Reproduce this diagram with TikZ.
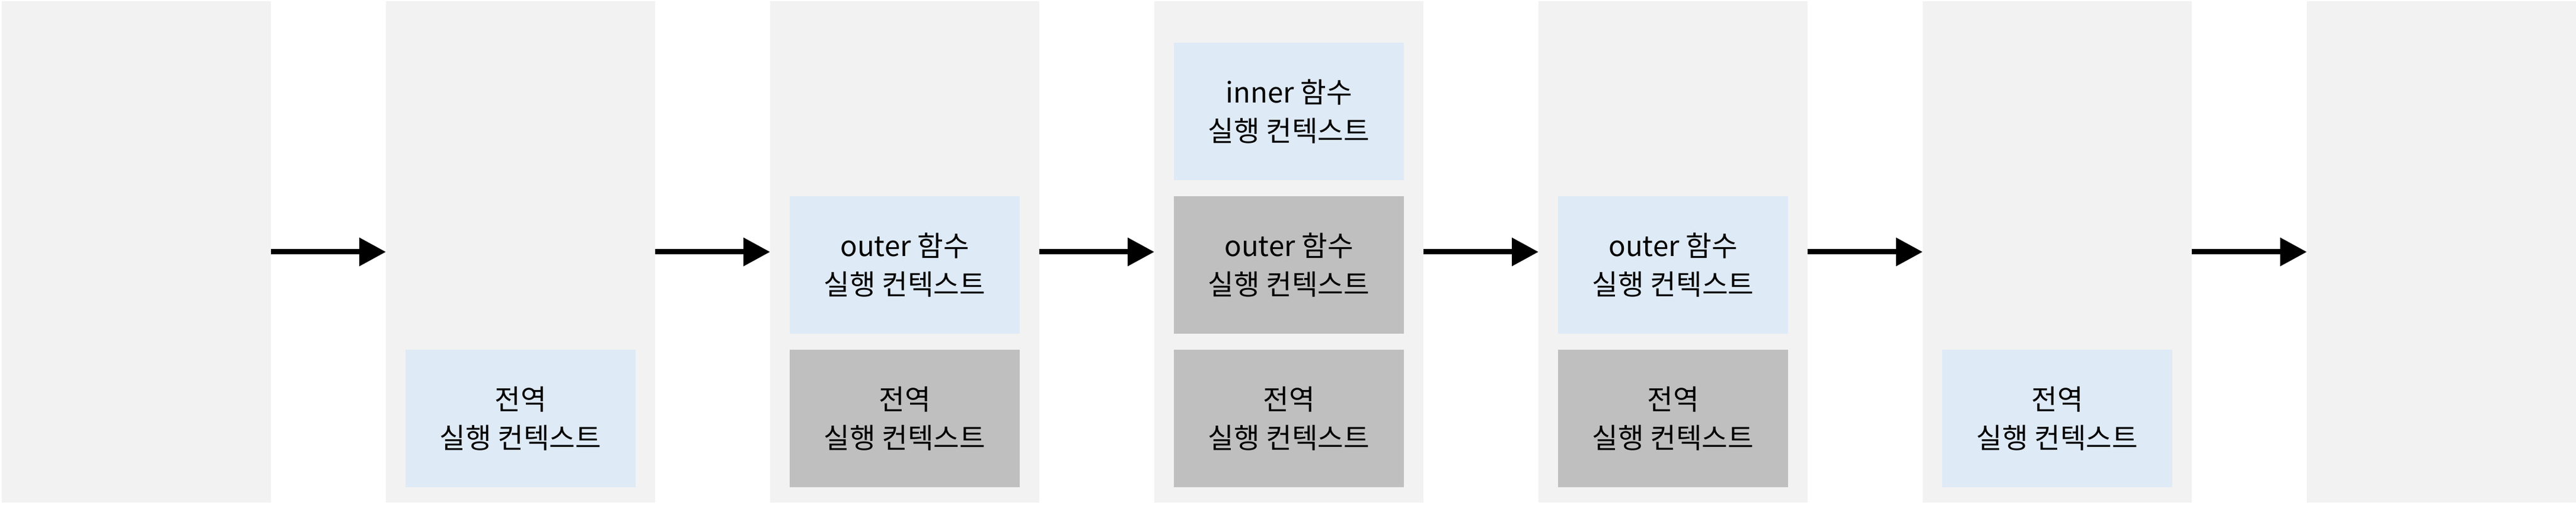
\documentclass[tikz,border=0pt]{standalone}
\usepackage{fontspec}
\setmainfont{Noto Sans CJK KR}
\usetikzlibrary{arrows.meta}

\definecolor{panelgray}{HTML}{F2F2F2}
\definecolor{ctxblue}{HTML}{DEEAF6}
\definecolor{ctxgray}{HTML}{BFBFBF}

\tikzset{
    stack/.style={fill=panelgray, draw=none, minimum width=4.54cm, minimum height=8.46cm, inner sep=0pt, outer sep=0pt},
    ctx/.style={draw=none, minimum width=3.88cm, minimum height=2.32cm, inner sep=0pt, outer sep=0pt,
                align=center, font=\fontsize{13.5}{18.5}\selectfont},
    active/.style={ctx, fill=ctxblue},
    waiting/.style={ctx, fill=ctxgray},
    flow/.style={line width=0.09cm, -{Triangle[length=0.45cm, width=0.46cm]}}
}

\begin{document}
\begin{tikzpicture}
        \useasboundingbox (0,0) rectangle (43.45,8.52);

        % Centri delle colonne: passo di 6.48 fra una pila e l'altra
        \coordinate (c0) at (2.30,4.27);
        \coordinate (c1) at (8.78,4.27);
        \coordinate (c2) at (15.26,4.27);
        \coordinate (c3) at (21.74,4.27);
        \coordinate (c4) at (28.22,4.27);
        \coordinate (c5) at (34.70,4.27);
        \coordinate (c6) at (41.18,4.27);

        % --- Pile (sfondo grigio chiaro) ---
        \node[stack] (s0) at (c0) {};
        \node[stack] (s1) at (c1) {};
        \node[stack] (s2) at (c2) {};
        \node[stack] (s3) at (c3) {};
        \node[stack] (s4) at (c4) {};
        \node[stack] (s5) at (c5) {};
        \node[stack] (s6) at (c6) {};

        % --- Contesti di esecuzione ---
        % Pila 1: solo il contesto globale
        \node[active] (g1) at (8.78,1.46) {전역\\실행 컨텍스트};

        % Pila 2: outer sopra il globale
        \node[waiting] (g2) at (15.26,1.46) {전역\\실행 컨텍스트};
        \node[active] (o2) at (15.26,4.05) {outer 함수\\실행 컨텍스트};

        % Pila 3: inner in cima
        \node[waiting] (g3) at (21.74,1.46) {전역\\실행 컨텍스트};
        \node[waiting] (o3) at (21.74,4.05) {outer 함수\\실행 컨텍스트};
        \node[active] (i3) at (21.74,6.64) {inner 함수\\실행 컨텍스트};

        % Pila 4: inner rimosso
        \node[waiting] (g4) at (28.22,1.46) {전역\\실행 컨텍스트};
        \node[active] (o4) at (28.22,4.05) {outer 함수\\실행 컨텍스트};

        % Pila 5: resta il globale
        \node[active] (g5) at (34.70,1.46) {전역\\실행 컨텍스트};

        % --- Frecce fra le pile ---
        \draw[flow] (s0.east) -- (s1.west);
        \draw[flow] (s1.east) -- (s2.west);
        \draw[flow] (s2.east) -- (s3.west);
        \draw[flow] (s3.east) -- (s4.west);
        \draw[flow] (s4.east) -- (s5.west);
        \draw[flow] (s5.east) -- (s6.west);

    \end{tikzpicture}
\end{document}
